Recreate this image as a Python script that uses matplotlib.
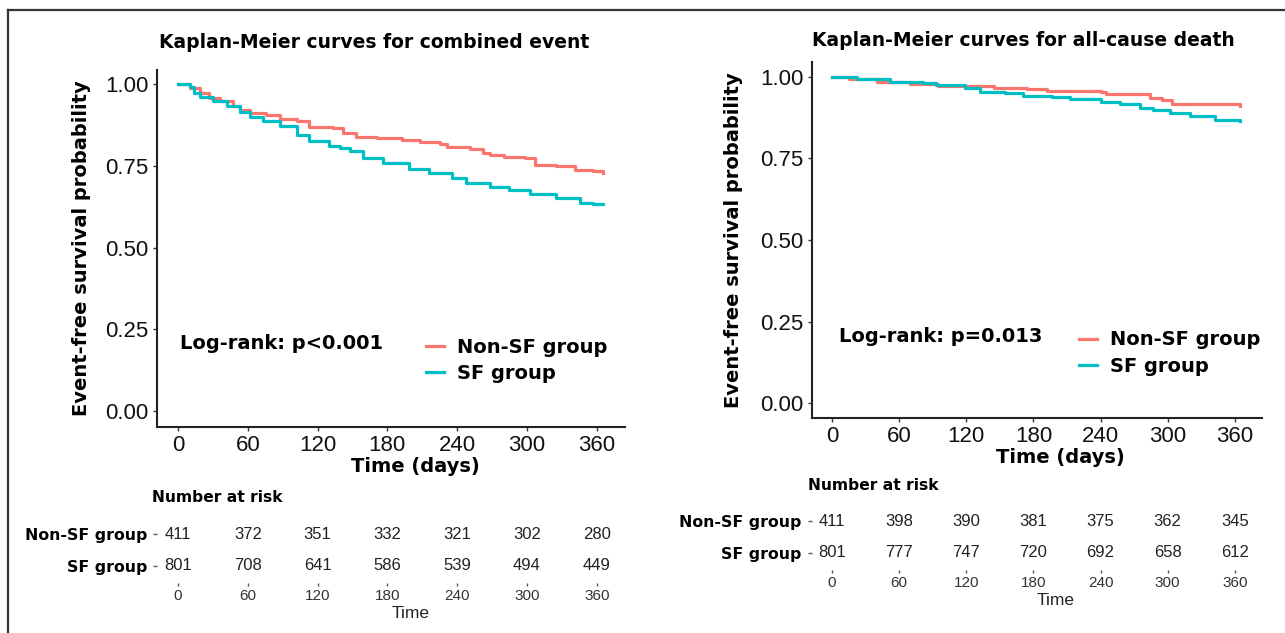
import numpy as np
import matplotlib
matplotlib.use('Agg')
import matplotlib.pyplot as plt
from matplotlib.lines import Line2D

W, H = 1285, 633
RED = '#F8766D'
TEAL = '#00BFC4'
BOLD = 'DejaVu Sans'
NUM = 'Liberation Sans'

groups = ['Non-SF group', 'SF group']
risk_times = [0, 60, 120, 180, 240, 300, 360]

# combined event, step curves (time, survival)
ce_nonsf_t = [0, 10, 19, 27, 36, 47, 53, 62, 76, 88, 102, 113, 133, 142, 153, 171, 193, 208, 225, 231, 251, 262, 268, 280, 298, 307, 325, 341, 357, 365]
ce_nonsf_s = [1.0, 0.988, 0.972, 0.957, 0.947, 0.933, 0.921, 0.911, 0.906, 0.894, 0.886, 0.868, 0.865, 0.850, 0.837, 0.834, 0.829, 0.824, 0.817, 0.808, 0.800, 0.789, 0.783, 0.778, 0.773, 0.752, 0.749, 0.737, 0.735, 0.729]
ce_sf_t = [0, 10, 14, 19, 30, 42, 53, 62, 73, 88, 102, 113, 130, 139, 148, 159, 176, 199, 216, 236, 248, 268, 285, 303, 325, 346, 357, 365]
ce_sf_s = [1.0, 0.990, 0.972, 0.959, 0.947, 0.932, 0.916, 0.898, 0.886, 0.871, 0.845, 0.827, 0.811, 0.803, 0.796, 0.773, 0.759, 0.739, 0.727, 0.712, 0.698, 0.686, 0.676, 0.665, 0.650, 0.637, 0.633, 0.632]
ce_risk_nonsf = [411, 372, 351, 332, 321, 302, 280]
ce_risk_sf = [801, 708, 641, 586, 539, 494, 449]

# all-cause death
ac_nonsf_t = [0, 15, 40, 70, 95, 145, 174, 192, 240, 245, 284, 295, 304, 342, 365]
ac_nonsf_s = [1.0, 0.995, 0.985, 0.980, 0.972, 0.965, 0.962, 0.957, 0.955, 0.948, 0.937, 0.930, 0.917, 0.916, 0.911]
ac_sf_t = [0, 22, 52, 81, 93, 119, 132, 155, 171, 197, 213, 240, 257, 275, 287, 302, 320, 342, 365]
ac_sf_s = [1.0, 0.993, 0.986, 0.981, 0.975, 0.965, 0.955, 0.952, 0.942, 0.940, 0.932, 0.924, 0.917, 0.904, 0.899, 0.889, 0.881, 0.869, 0.864]
ac_risk_nonsf = [411, 398, 390, 381, 375, 362, 345]
ac_risk_sf = [801, 777, 747, 720, 692, 658, 612]

XLIM = (-18.3, 384.3)
YLIM_L = (-0.049, 1.043)
YLIM_R = (-0.046, 1.046)


def px_axes(fig, l, t, r, b):
    return fig.add_axes([l / W, 1 - b / H, (r - l) / W, (b - t) / H])


def xfrac(t):
    return (t - XLIM[0]) / (XLIM[1] - XLIM[0])


def km_panel(fig, box, ylim, title, title_xy, curves, pval, pval_xy, leg_xy, ylab_x):
    ax = px_axes(fig, *box)
    for (t, s), c, lab in zip(curves, [RED, TEAL], groups):
        ax.step(t, s, where='post', color=c, lw=2.3, label=lab)
    ax.set_xlim(*XLIM)
    ax.set_ylim(*ylim)
    ax.set_xticks(risk_times)
    ax.set_yticks([0, 0.25, 0.5, 0.75, 1.0])
    ax.set_yticklabels(['0.00', '0.25', '0.50', '0.75', '1.00'])
    for sp in ['top', 'right']:
        ax.spines[sp].set_visible(False)
    for sp in ['left', 'bottom']:
        ax.spines[sp].set_linewidth(1.5)
        ax.spines[sp].set_color('#222222')
    ax.tick_params(length=3, width=1, color='#333333', labelsize=16, pad=3)
    for lb in ax.get_xticklabels() + ax.get_yticklabels():
        lb.set_family(NUM)
        lb.set_color('#111111')
    ax.set_ylabel('Event-free survival probability', family=BOLD, weight='bold', fontsize=14)
    ax.set_xlabel('Time (days)', family=BOLD, weight='bold', fontsize=14)
    ax.yaxis.set_label_coords(ylab_x, 0.5)
    ax.xaxis.set_label_coords(xfrac(204), -0.085)
    fig.text(title_xy[0] / W, 1 - title_xy[1] / H, title, family=BOLD, weight='bold',
             fontsize=13.5, ha='left', va='center')
    ax.text(pval_xy[0], pval_xy[1], pval, transform=ax.transAxes, family=BOLD, weight='bold',
            fontsize=14, va='center', ha='left')
    ax.legend(loc='upper left', bbox_to_anchor=leg_xy, frameon=False,
              prop={'family': BOLD, 'weight': 'bold', 'size': 14},
              handlelength=0.93, handletextpad=0.67, labelspacing=0.37,
              borderpad=0, borderaxespad=0)
    return ax


def risk_table(fig, box, rows, title_xy):
    ax = px_axes(fig, *box)
    ax.set_xlim(*XLIM)
    ax.set_ylim(-0.55, 1.45)
    for yi, vals in zip([1, 0], rows):
        for t, n in zip(risk_times, vals):
            ax.text(t, yi, str(n), ha='center', va='center', family=NUM,
                    fontsize=12, color='#222222')
    ax.set_xticks(risk_times)
    ax.set_yticks([1, 0])
    ax.set_yticklabels(groups, family=BOLD, weight='bold', fontsize=11.3)
    for sp in ax.spines.values():
        sp.set_visible(False)
    ax.tick_params(axis='x', length=2, width=1, color='#555555', labelsize=11,
                   labelcolor='#333333', pad=2)
    ax.tick_params(axis='y', length=3, width=1, color='#555555', pad=4)
    for lb in ax.get_xticklabels():
        lb.set_family(NUM)
    ax.set_xlabel('Time', family=NUM, fontsize=12.5, color='#222222')
    ax.xaxis.set_label_coords(xfrac(200), -0.37)
    fig.text(title_xy[0] / W, 1 - title_xy[1] / H, 'Number at risk', family=BOLD,
             weight='bold', fontsize=11.2, va='center', ha='left')
    return ax


fig = plt.figure(figsize=(W / 100, H / 100), dpi=100)

km_panel(fig, (156.7, 70, 625, 427), YLIM_L,
         'Kaplan-Meier curves for combined event', (159, 43),
         [(ce_nonsf_t, ce_nonsf_s), (ce_sf_t, ce_sf_s)], 'Log-rank: p<0.001',
         (0.05, 0.235), (0.575, 0.249), -0.14)
risk_table(fig, (156.7, 520, 625, 583), [ce_risk_nonsf, ce_risk_sf], (152, 497))

km_panel(fig, (811.5, 62, 1262, 418), YLIM_R,
         'Kaplan-Meier curves for all-cause death', (812, 40),
         [(ac_nonsf_t, ac_nonsf_s), (ac_sf_t, ac_sf_s)], 'Log-rank: p=0.013',
         (0.061, 0.228), (0.594, 0.246), -0.152)
risk_table(fig, (811.5, 507, 1262, 570), [ac_risk_nonsf, ac_risk_sf], (808, 485))

# outer frame (left and top edges only, the picture is cropped)
fig.add_artist(Line2D([8 / W, 8 / W], [0, 1 - 10 / H], transform=fig.transFigure,
                      color='#333333', lw=1.6))
fig.add_artist(Line2D([8 / W, 1], [1 - 10 / H, 1 - 10 / H], transform=fig.transFigure,
                      color='#333333', lw=1.6))

fig.savefig('out.png', dpi=100, facecolor='white')
